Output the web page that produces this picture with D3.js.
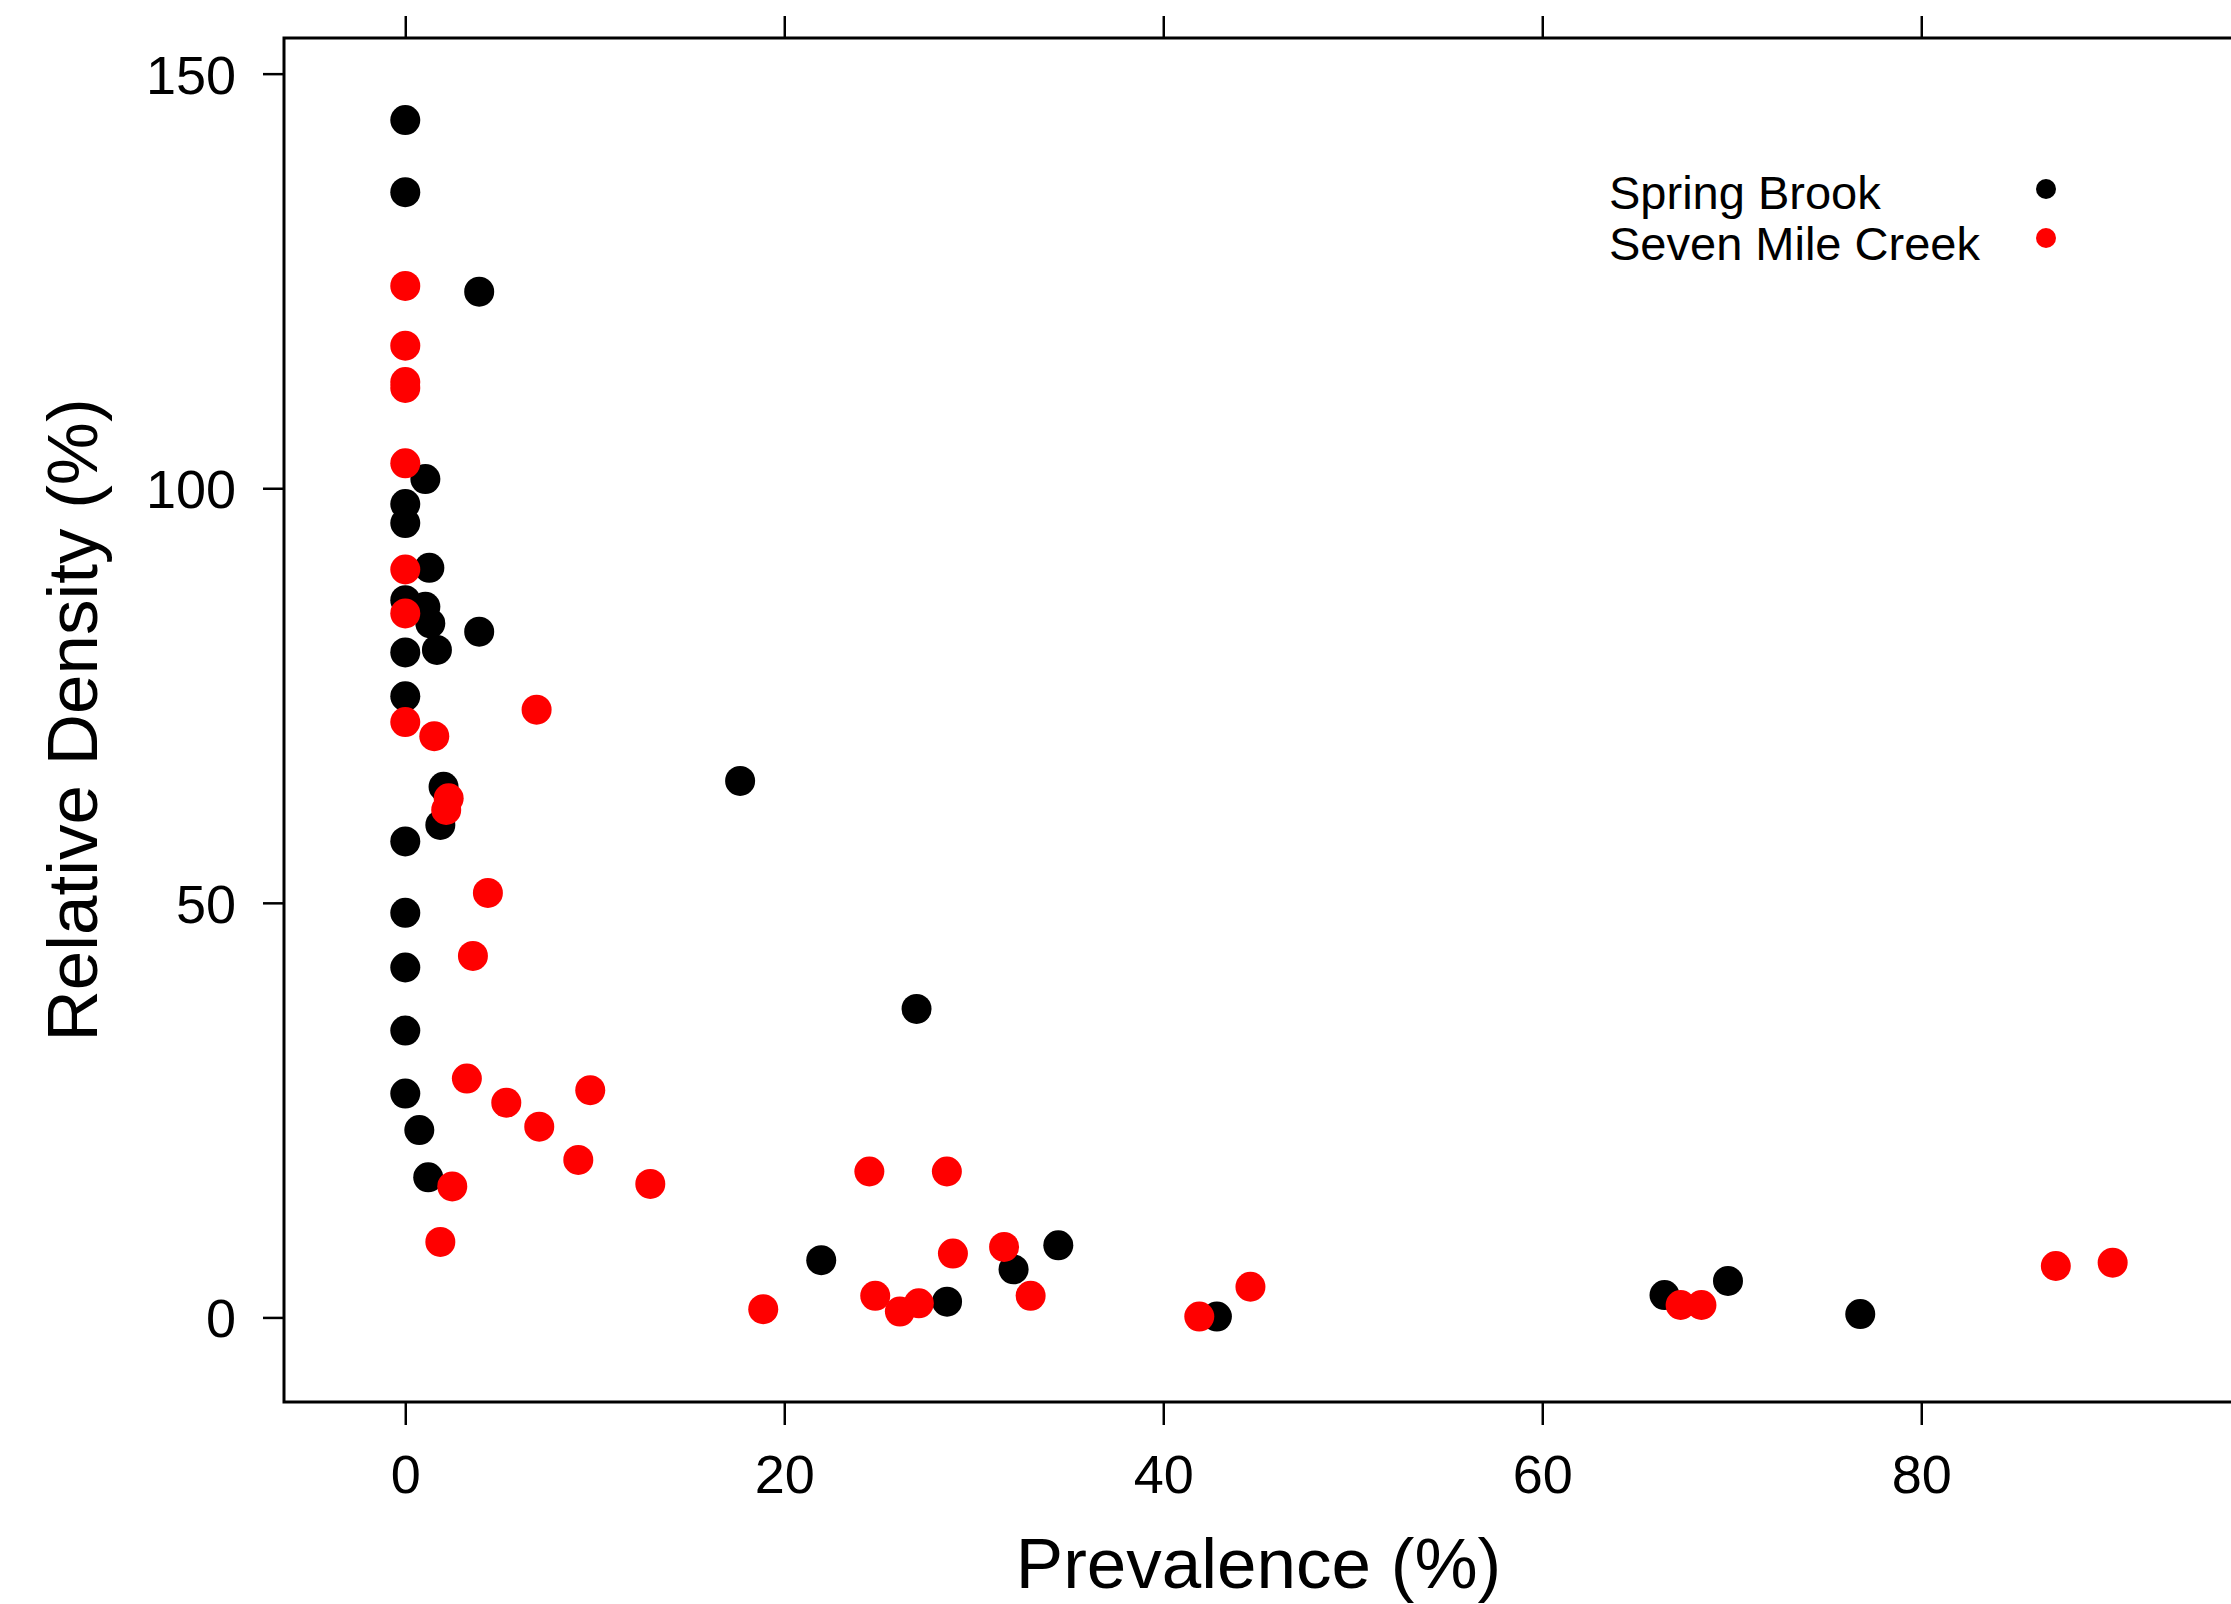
<!DOCTYPE html>
<html>
<head>
<meta charset="utf-8">
<script src="https://cdn.jsdelivr.net/npm/d3@7"></script>
<style>
  html, body { margin: 0; padding: 0; background: #fff; }
  svg { display: block; font-family: "Liberation Sans", Arial, sans-serif; }
</style>
</head>
<body>
<svg id="chart" width="2231" height="1604"></svg>
<script>
// ---- Data ----
const seriesNames = ["Spring Brook", "Seven Mile Creek"];
const seriesColors = ["#000000", "#ff0000"];

// Spring Brook: prevalence (%) and relative density (%)
const springBrookX = [0, 0, 3.9, 1.06, 0, 0, 1.27, 0, 1.06, 1.32, 0, 1.67, 3.9, 0, 2.02, 1.85, 0, 0, 0, 0, 0, 0.74, 1.21, 17.67, 26.98, 21.95, 28.59, 32.1, 34.46, 42.83, 66.45, 69.8, 76.78];
const springBrookY = [144.4, 135.7, 123.7, 101.1, 98.1, 95.8, 90.4, 86.5, 85.7, 83.7, 80.2, 80.5, 82.7, 74.9, 64.0, 59.4, 57.4, 48.8, 42.2, 34.6, 27.0, 22.6, 16.9, 64.7, 37.2, 6.9, 1.9, 5.8, 8.7, 0.1, 2.7, 4.4, 0.4];

// Seven Mile Creek
const sevenMileX = [0, 0, 0, 0, 0, 0, 0, 6.93, 0, 1.53, 2.29, 2.16, 4.36, 3.57, 3.25, 5.33, 9.76, 7.07, 9.13, 2.48, 12.93, 1.85, 18.89, 24.49, 28.58, 28.9, 31.6, 24.8, 26.1, 27.1, 33.0, 41.9, 44.6, 67.3, 68.4, 87.1, 90.1];
const sevenMileY = [124.4, 117.2, 112.8, 112.1, 103.0, 90.2, 84.9, 73.3, 71.8, 70.1, 62.6, 61.2, 51.2, 43.6, 28.8, 25.9, 27.4, 23.0, 19.0, 15.8, 16.1, 9.1, 1.0, 17.6, 17.6, 7.7, 8.5, 2.6, 0.7, 1.7, 2.6, 0.1, 3.7, 1.5, 1.5, 6.2, 6.6];

const xTicks = [0, 20, 40, 60, 80];
const yTicks = [0, 50, 100, 150];
const xLabel = "Prevalence (%)";
const yLabel = "Relative Density (%)";

// ---- Layout ----
const W = 2231, H = 1604;
const plot = { left: 284, right: 2233, top: 38, bottom: 1402 };

const svg = d3.select("#chart");

const x = d3.scaleLinear().domain([-6.4, 96.45]).range([plot.left, plot.right]);
const y = d3.scaleLinear().domain([-10.2, 154.3]).range([plot.bottom, plot.top]);

// Box (left, top, bottom; right lies at the image edge)
svg.append("path")
  .attr("d", `M${plot.right},${plot.top}H${plot.left}V${plot.bottom}H${plot.right}`)
  .attr("fill", "none").attr("stroke", "#000").attr("stroke-width", 3);

// Bottom axis
const gx = svg.append("g").attr("transform", `translate(0,${plot.bottom})`)
  .call(d3.axisBottom(x).tickValues(xTicks).tickSize(23).tickPadding(0).tickFormat(d3.format("d")));
gx.select(".domain").remove();
gx.selectAll(".tick line").attr("stroke", "#000").attr("stroke-width", 2.5);
gx.selectAll(".tick text").attr("y", 91).attr("dy", 0)
  .attr("font-size", 54).attr("fill", "#000")
  .attr("font-family", '"Liberation Sans", Arial, sans-serif');

// Top axis (ticks only)
const gt = svg.append("g").attr("transform", `translate(0,${plot.top})`)
  .call(d3.axisTop(x).tickValues(xTicks).tickSize(22).tickFormat(""));
gt.select(".domain").remove();
gt.selectAll(".tick line").attr("stroke", "#000").attr("stroke-width", 2.5);

// Left axis
const gy = svg.append("g").attr("transform", `translate(${plot.left},0)`)
  .call(d3.axisLeft(y).tickValues(yTicks).tickSize(21).tickPadding(27).tickFormat(d3.format("d")));
gy.select(".domain").remove();
gy.selectAll(".tick line").attr("stroke", "#000").attr("stroke-width", 2.5);
gy.selectAll(".tick text").attr("dy", "0.36em")
  .attr("font-size", 54).attr("fill", "#000")
  .attr("font-family", '"Liberation Sans", Arial, sans-serif');

// Axis titles
svg.append("text")
  .attr("x", (plot.left + plot.right) / 2).attr("y", 1588)
  .attr("text-anchor", "middle").attr("font-size", 71).attr("fill", "#000")
  .text(xLabel);

svg.append("text")
  .attr("transform", `translate(97,${(plot.top + plot.bottom) / 2}) rotate(-90)`)
  .attr("text-anchor", "middle").attr("font-size", 71).attr("fill", "#000")
  .text(yLabel);

// Points
const series = [
  { xs: springBrookX, ys: springBrookY, color: seriesColors[0] },
  { xs: sevenMileX, ys: sevenMileY, color: seriesColors[1] }
];
series.forEach(s => {
  const pts = s.xs.map((v, i) => ({ x: v, y: s.ys[i] }));
  svg.append("g").selectAll("circle").data(pts).join("circle")
    .attr("cx", d => x(d.x)).attr("cy", d => y(d.y)).attr("r", 15)
    .attr("fill", s.color);
});

// Legend
const legend = svg.append("g");
const legendRows = [209, 260];
const legendDotY = [189, 238];
seriesNames.forEach((name, i) => {
  legend.append("text").attr("x", 1609).attr("y", legendRows[i])
    .attr("font-size", 47).attr("fill", "#000").text(name);
  legend.append("circle").attr("cx", 2046).attr("cy", legendDotY[i]).attr("r", 10)
    .attr("fill", seriesColors[i]);
});
</script>
</body>
</html>
